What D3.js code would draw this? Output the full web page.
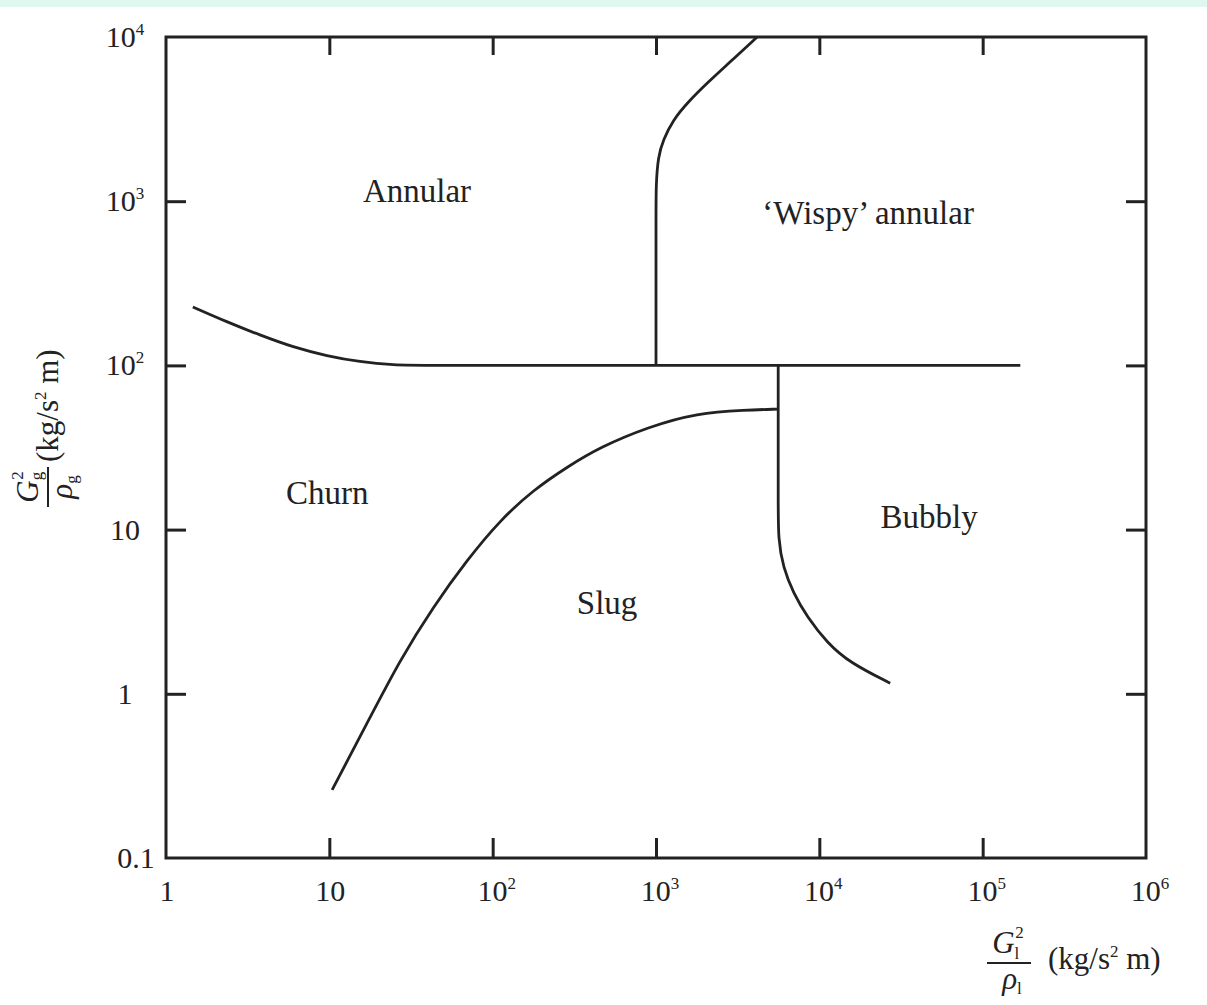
<!DOCTYPE html>
<html>
<head>
<meta charset="utf-8">
<script src="https://cdn.jsdelivr.net/npm/d3@7"></script>
<style>
  body { margin: 0; background: #fff; }
  svg { display: block; font-family: "Liberation Serif", "DejaVu Serif", serif; }
  .tick line { stroke: #222; stroke-width: 3; }
  .domain { display: none; }
</style>
</head>
<body>
<svg id="chart" width="1207" height="1005"></svg>
<script>
// flow regime map boundaries (x = Gl^2/rho_l, y = Gg^2/rho_g)
const xTicks = [1, 10, 100, 1e3, 1e4, 1e5, 1e6];
const yTicks = [0.1, 1, 10, 100, 1e3, 1e4];
const xInnerTicks = [10, 100, 1e3, 1e4, 1e5];
const yInnerTicks = [1, 10, 100, 1e3];

const annularChurn = [[1.46, 227], [2.36, 184], [3.76, 153], [6.0, 129], [9.7, 114],
  [15.4, 105], [24.5, 100.5], [40, 100], [200, 100], [1.7e5, 100]];
const annularWispy = [[1000, 100], [1000, 300], [1000, 800], [1000, 1255], [1030, 1860], [1105, 2360],
  [1273, 3125], [1550, 3960], [2056, 5250], [2843, 7040], [4160, 10000]];
const churnSlug = [[10.4, 0.26], [17, 0.66], [27.1, 1.61], [43.2, 3.38], [69.7, 6.53],
  [111, 11.4], [177, 17.4], [286, 24.1], [455, 31.8], [895, 42.2], [1786, 51.3],
  [3516, 53.5], [5600, 54.2]];
const slugBubbly = [[5600, 100], [5600, 40], [5600, 15], [5600, 8.64], [6000, 5.92], [6920, 4.11],
  [8420, 2.94], [11170, 2.04], [15450, 1.54], [27150, 1.16]];

const regionNames = ["Annular", "\u2018Wispy\u2019 annular", "Churn", "Slug", "Bubbly"];
const regionX = [34.4, 19900, 9.7, 502, 47000];
const regionY = [1170, 859, 16.9, 3.62, 12.1];

const svg = d3.select('#chart');
const margin = { top: 37, right: 61, bottom: 147, left: 166 };
const width = +svg.attr('width') - margin.left - margin.right;
const height = +svg.attr('height') - margin.top - margin.bottom;
const ink = '#222';

// mint strip along the top edge of the scan
svg.append('rect').attr('x', 0).attr('y', 0).attr('width', 1207).attr('height', 7).attr('fill', '#def8ef');

const x = d3.scaleLog().domain([1, 1e6]).range([margin.left, margin.left + width]);
const y = d3.scaleLog().domain([0.1, 1e4]).range([margin.top + height, margin.top]);

const g = svg.append('g');

// inward ticks on all four sides
g.append('g').attr('transform', 'translate(0,' + y(0.1) + ')')
  .call(d3.axisBottom(x).tickValues(xInnerTicks).tickSizeInner(-20).tickSizeOuter(0).tickFormat(''));
g.append('g').attr('transform', 'translate(0,' + y(1e4) + ')')
  .call(d3.axisTop(x).tickValues(xInnerTicks).tickSizeInner(-18).tickSizeOuter(0).tickFormat(''));
g.append('g').attr('transform', 'translate(' + x(1) + ',0)')
  .call(d3.axisLeft(y).tickValues(yInnerTicks).tickSizeInner(-20).tickSizeOuter(0).tickFormat(''));
g.append('g').attr('transform', 'translate(' + x(1e6) + ',0)')
  .call(d3.axisRight(y).tickValues(yInnerTicks).tickSizeInner(-20).tickSizeOuter(0).tickFormat(''));

g.append('rect')
  .attr('x', x(1)).attr('y', y(1e4))
  .attr('width', x(1e6) - x(1)).attr('height', y(0.1) - y(1e4))
  .attr('fill', 'none').attr('stroke', ink).attr('stroke-width', 3);

// tick labels with superscript powers
function powerLabel(sel, v) {
  const e = Math.round(Math.log10(v));
  if (e >= 2) {
    sel.append('tspan').text('10');
    sel.append('tspan').attr('dy', -12).attr('font-size', 17).text(e);
  } else {
    sel.text(v === 0.1 ? '0.1' : String(v));
  }
}

g.selectAll('.xlab').data(xTicks).join('text')
  .attr('class', 'xlab')
  .attr('x', d => x(d) + (d >= 100 ? 4 : 1))
  .attr('y', y(0.1) + 43)
  .attr('text-anchor', 'middle')
  .attr('font-size', 30).attr('fill', ink)
  .each(function (d) { powerLabel(d3.select(this), d); });

g.selectAll('.ylab').data(yTicks).join('text')
  .attr('class', 'ylab')
  .attr('x', d => d === 0.1 ? 136 : 125)
  .attr('y', d => y(d) + 10)
  .attr('text-anchor', 'middle')
  .attr('font-size', 30).attr('fill', ink)
  .each(function (d) { powerLabel(d3.select(this), d); });

// boundaries
const line = d3.line()
  .x(d => x(d[0]))
  .y(d => y(d[1]))
  .curve(d3.curveBasis);

g.selectAll('.boundary')
  .data([annularChurn, annularWispy, churnSlug, slugBubbly])
  .join('path')
  .attr('class', 'boundary')
  .attr('d', line)
  .attr('fill', 'none')
  .attr('stroke', ink)
  .attr('stroke-width', 2.8);

// regime names
g.selectAll('.region').data(regionNames).join('text')
  .attr('class', 'region')
  .attr('x', (d, i) => x(regionX[i]))
  .attr('y', (d, i) => y(regionY[i]))
  .attr('dy', '0.35em')
  .attr('text-anchor', 'middle')
  .attr('font-size', 33).attr('fill', ink)
  .text(d => d);

// x axis title: Gl^2 / rho_l (kg/s^2 m)
const xt = svg.append('g').attr('fill', ink).attr('font-size', 31);
const xn = xt.append('text').attr('x', 1008).attr('y', 953).attr('text-anchor', 'middle');
xn.append('tspan').attr('font-style', 'italic').text('G');
xn.append('tspan').attr('font-size', 17).attr('dy', 6).text('l');
xn.append('tspan').attr('font-size', 17).attr('dx', -4).attr('dy', -21).text('2');
xt.append('line').attr('x1', 987).attr('x2', 1031).attr('y1', 963).attr('y2', 963)
  .attr('stroke', ink).attr('stroke-width', 2);
const xd = xt.append('text').attr('x', 1012).attr('y', 989).attr('text-anchor', 'middle');
xd.append('tspan').attr('font-style', 'italic').text('\u03c1');
xd.append('tspan').attr('font-size', 17).attr('dy', 5).text('l');
const xu = xt.append('text').attr('x', 1048).attr('y', 969);
xu.append('tspan').text('(kg/s');
xu.append('tspan').attr('font-size', 17).attr('dy', -12).text('2');
xu.append('tspan').attr('dy', 12).text(' m)');

// y axis title, rotated
const yt = svg.append('g').attr('fill', ink).attr('font-size', 31)
  .attr('transform', 'rotate(-90)');
const yn = yt.append('text').attr('x', -487).attr('y', 38).attr('text-anchor', 'middle');
yn.append('tspan').attr('font-style', 'italic').text('G');
yn.append('tspan').attr('font-size', 17).attr('dy', 4).text('g');
yn.append('tspan').attr('font-size', 17).attr('dx', -8).attr('dy', -19).text('2');
yt.append('line').attr('x1', -507).attr('x2', -467).attr('y1', 48).attr('y2', 48)
  .attr('stroke', ink).attr('stroke-width', 2);
const yd = yt.append('text').attr('x', -487).attr('y', 72).attr('text-anchor', 'middle');
yd.append('tspan').attr('font-style', 'italic').text('\u03c1');
yd.append('tspan').attr('font-size', 17).attr('dy', 5).text('g');
const yu = yt.append('text').attr('x', -462).attr('y', 58);
yu.append('tspan').text('(kg/s');
yu.append('tspan').attr('font-size', 17).attr('dy', -12).text('2');
yu.append('tspan').attr('dy', 12).text(' m)');
</script>
</body>
</html>
